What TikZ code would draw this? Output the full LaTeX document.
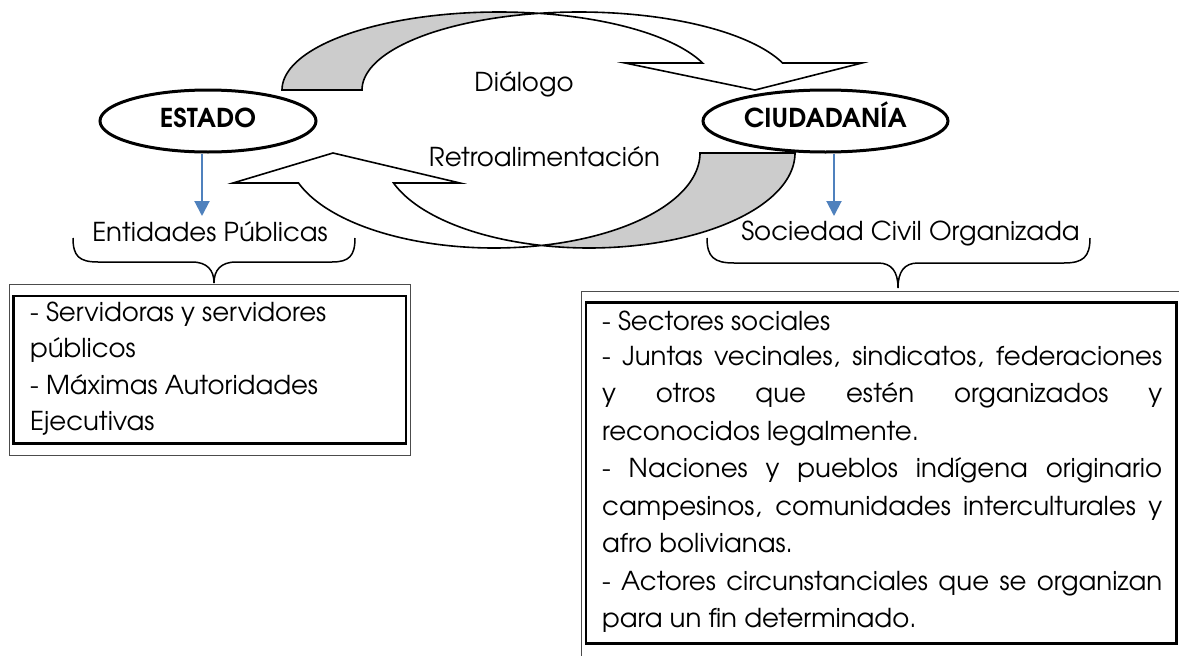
\documentclass[tikz,border=0pt]{standalone}
\usepackage{fontspec}
\setmainfont{texgyreadventor}[Extension=.otf,UprightFont=*-regular,BoldFont=*-bold,ItalicFont=*-italic,BoldItalicFont=*-bolditalic]
\usetikzlibrary{shapes.geometric,arrows.meta}
\definecolor{officeblue}{RGB}{79,129,189}
\definecolor{backgray}{RGB}{204,204,204}
\tikzset{
  backpart/.style={fill=backgray,draw=black,line width=1.6pt,line join=miter},
  frontpart/.style={fill=white,draw=black,line width=1.6pt,line join=miter},
  actor/.style={ellipse,draw=black,fill=white,line width=3pt,inner sep=0pt,
    minimum height=62pt,text height=19pt,text depth=5.2pt,
    font=\fontsize{26}{31}\selectfont\bfseries},
  txt/.style={font=\fontsize{26}{31}\selectfont,inner sep=0pt},
  bluearrow/.style={draw=officeblue,line width=2pt,-{Triangle[width=15pt,length=15pt]}},
  brace/.style={draw=black,line width=1.5pt},
  outerbox/.style={draw=black!70,line width=1pt},
  innerbox/.style={draw=black,line width=2.5pt}
}
\begin{document}
\begin{tikzpicture}[x=1pt,y=-1pt]
\useasboundingbox (0,0) rectangle (1179,656);
\fill[white] (0,0) rectangle (1179,656);

% top curved arrow (Dialogo)
\filldraw[backpart] plot[domain=180:79.38,samples=70] ({499+217*cos(\x)},{90-78*sin(\x)})
  -- plot[domain=100.62:180,samples=70] ({579+217*cos(\x)},{90-78*sin(\x)}) -- cycle;
\filldraw[frontpart] plot[domain=100.62:20.25,samples=90] ({579+217*cos(\x)},{90-78*sin(\x)})
  -- (862,63) -- (755,90) -- (625,63)
  -- plot[domain=20.25:79.38,samples=70] ({499+217*cos(\x)},{90-78*sin(\x)}) -- cycle;

% bottom curved arrow (Retroalimentacion)
\filldraw[backpart] plot[domain=0:103.33,samples=90] ({589+206*cos(\x)},{153+95*sin(\x)})
  -- plot[domain=76.67:0,samples=70] ({494+206*cos(\x)},{153+95*sin(\x)}) -- cycle;
\filldraw[frontpart] plot[domain=103.33:161.59,samples=70] ({589+206*cos(\x)},{153+95*sin(\x)})
  -- (460,183) -- (333,153) -- (233,183)
  -- plot[domain=161.59:76.67,samples=90] ({494+206*cos(\x)},{153+95*sin(\x)}) -- cycle;

% actors
\node[actor,minimum width=216pt] (estado) at (208,121) {ESTADO};
\node[actor,minimum width=245pt] (ciud) at (825.5,121) {CIUDADANÍA};

% middle labels
\node[txt,anchor=base] (dialogo) at (524,91) {Diálogo};
\node[txt,anchor=base] (retro) at (544.5,166.6) {Retroalimentación};

% sub labels
\node[txt,anchor=base] (entidades) at (210,241.6) {Entidades Públicas};
\node[txt,anchor=base] (sociedad) at (910.5,240.7) {Sociedad Civil Organizada};

% blue arrows
\coordinate (ea) at (202,216);
\coordinate (ca) at (834,216);
\draw[bluearrow] (estado.south -| ea) -- (ea);
\draw[bluearrow] (ciud.south -| ca) -- (ca);

% braces
\draw[brace] (73,238) .. controls (73,256) and (79,262) .. (98,262) -- (192,262)
  .. controls (207,262) and (214,270) .. (214,283)
  .. controls (214,270) and (221,262) .. (236,262) -- (332,262)
  .. controls (349,262) and (355,256) .. (355,238);
\draw[brace] (707,238) .. controls (707,257) and (714,263) .. (734,263) -- (878,263)
  .. controls (892,263) and (898,272) .. (898,288)
  .. controls (898,272) and (904,263) .. (918,263) -- (1064,263)
  .. controls (1083,263) and (1090,257) .. (1090,238);

% left box
\draw[outerbox] (9.3,284) rectangle (410,455);
\draw[innerbox] (13.3,296) rectangle (406,443.3);
\node[txt,anchor=base west] (l1) at (30,321) {- Servidoras y servidores};
\node[txt,anchor=base west] (l2) at (30,357.6) {públicos};
\node[txt,anchor=base west] (l3) at (30,394.2) {- Máximas Autoridades};
\node[txt,anchor=base west] (l4) at (30,430.8) {Ejecutivas};

% right box
\draw[outerbox] (1185,291) -- (581.7,291) -- (581.7,660);
\draw[innerbox] (586,302.3) rectangle (1176.5,643.3);
\node[txt,anchor=base west] (r1) at (602,330) {- Sectores sociales};
\node[txt,anchor=base west] (r2) at (602,365) {\makebox[560pt][s]{- Juntas vecinales, sindicatos, federaciones}};
\node[txt,anchor=base west] (r3) at (602,402) {\makebox[560pt][s]{y otros que estén organizados y}};
\node[txt,anchor=base west] (r4) at (602,440) {reconocidos legalmente.};
\node[txt,anchor=base west] (r5) at (602,477) {\makebox[560pt][s]{- Naciones y pueblos indígena originario}};
\node[txt,anchor=base west] (r6) at (602,515) {\makebox[560pt][s]{campesinos, comunidades interculturales y}};
\node[txt,anchor=base west] (r7) at (602,552) {afro bolivianas.};
\node[txt,anchor=base west] (r8) at (602,590) {\makebox[560pt][s]{- Actores circunstanciales que se organizan}};
\node[txt,anchor=base west] (r9) at (602,627) {para un fin determinado.};
\end{tikzpicture}
\end{document}
